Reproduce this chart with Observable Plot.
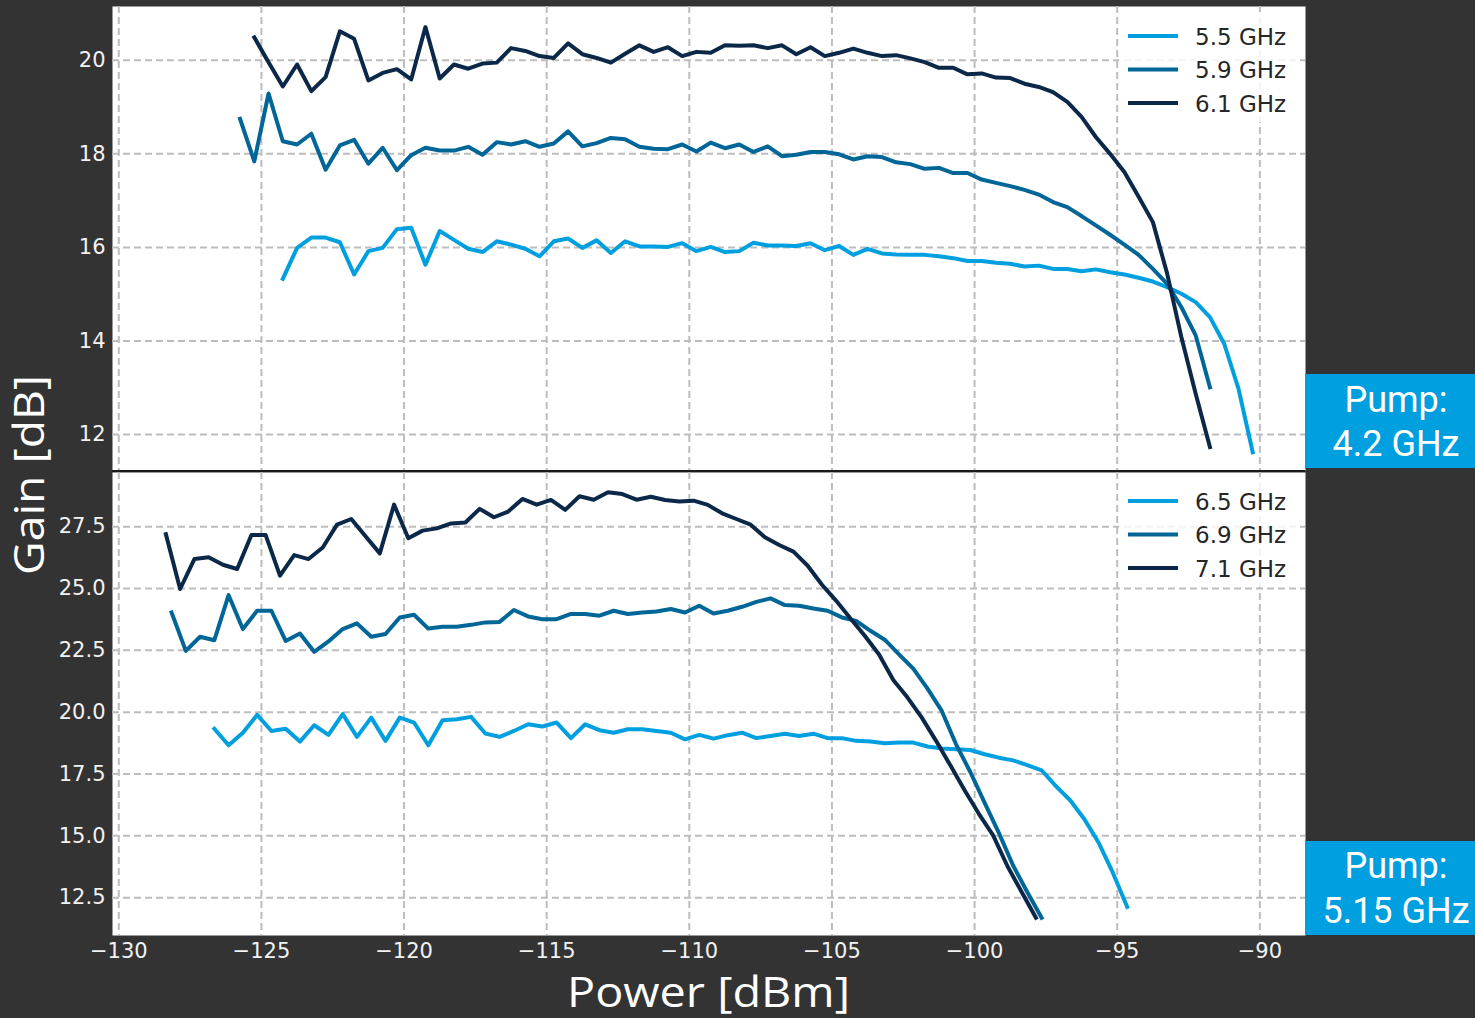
<!DOCTYPE html>
<html>
<head>
<meta charset="utf-8">
<script src="https://cdn.jsdelivr.net/npm/d3@7"></script>
<script src="https://cdn.jsdelivr.net/npm/@observablehq/plot@0.6"></script>
<style>
  html, body { margin: 0; padding: 0; background: #333333; }
  #chart { position: relative; width: 1475px; height: 1018px; background: #333333; overflow: hidden; }
  #chart > svg { position: absolute; left: 0; margin: 0; }
</style>
</head>
<body>
<div id="chart"></div>
<script>
// ---------------- data ----------------
const xTicks = [-130, -125, -120, -115, -110, -105, -100, -95, -90];
const topYTicks = [12, 14, 16, 18, 20];
const bottomYTicks = [12.5, 15, 17.5, 20, 22.5, 25, 27.5];
const topNames = ["5.5 GHz", "5.9 GHz", "6.1 GHz"];
const bottomNames = ["6.5 GHz", "6.9 GHz", "7.1 GHz"];
const seriesColors = ["#009fdf", "#006597", "#0b2848"];
const pumpLabels = ["4.2 GHz", "5.15 GHz"];
const xLabel = "Power [dBm]";
const yLabel = "Gain [dB]";

// power sweeps (dBm)
const topSweep = [-125.75, -125.25, -124.75, -124.25, -123.75, -123.25, -122.75, -122.25, -121.75, -121.25,
  -120.75, -120.25, -119.75, -119.25, -118.75, -118.25, -117.75, -117.25, -116.75, -116.25,
  -115.75, -115.25, -114.75, -114.25, -113.75, -113.25, -112.75, -112.25, -111.75, -111.25,
  -110.75, -110.25, -109.75, -109.25, -108.75, -108.25, -107.75, -107.25, -106.75, -106.25,
  -105.75, -105.25, -104.75, -104.25, -103.75, -103.25, -102.75, -102.25, -101.75, -101.25,
  -100.75, -100.25, -99.75, -99.25, -98.75, -98.25, -97.75, -97.25, -96.75, -96.25,
  -95.75, -95.25, -94.75, -94.25, -93.75, -93.25, -92.75, -92.25, -91.75, -91.25, -90.75, -90.25];
const bottomSweepA = [-128.35, -127.85, -127.35, -126.85, -126.35, -125.85, -125.35, -124.85, -124.35, -123.85,
  -123.35, -122.85, -122.35, -121.85, -121.35, -120.85, -120.35, -119.85, -119.35, -118.85,
  -118.35, -117.85, -117.35, -116.85, -116.35, -115.85, -115.35, -114.85, -114.35, -113.85,
  -113.35, -112.85, -112.35, -111.85, -111.35, -110.85, -110.35, -109.85, -109.35, -108.85,
  -108.35, -107.85, -107.35, -106.85, -106.35, -105.85, -105.35, -104.85, -104.35, -103.85,
  -103.35, -102.85, -102.35, -101.85, -101.35, -100.85, -100.35, -99.85, -99.35, -98.85, -98.35, -97.85];
const bottomSweepB = [-128.15, -127.65, -127.15, -126.65, -126.15, -125.65, -125.15, -124.65, -124.15, -123.65,
  -123.15, -122.65, -122.15, -121.65, -121.15, -120.65, -120.15, -119.65, -119.15, -118.65,
  -118.15, -117.65, -117.15, -116.65, -116.15, -115.65, -115.15, -114.65, -114.15, -113.65,
  -113.15, -112.65, -112.15, -111.65, -111.15, -110.65, -110.15, -109.65, -109.15, -108.65,
  -108.15, -107.65, -107.15, -106.65, -106.15, -105.65, -105.15, -104.65, -104.15, -103.65,
  -103.15, -102.65, -102.15, -101.65, -101.15, -100.65, -100.15, -99.65, -99.15, -98.65,
  -98.15, -97.65, -97.15, -96.65, -96.15, -95.65, -95.15, -94.65];

// gain (dB) — pump 4.2 GHz
const gain55 = [15.33, 15.99, 16.21, 16.21, 16.11, 15.42, 15.92, 15.99, 16.39, 16.42,
  15.63, 16.35, 16.16, 15.97, 15.90, 16.13, 16.06, 15.97, 15.81, 16.13,
  16.19, 15.99, 16.15, 15.88, 16.13, 16.02, 16.02, 16.01, 16.09, 15.92,
  16.01, 15.90, 15.92, 16.10, 16.04, 16.04, 16.03, 16.09, 15.94, 16.03,
  15.84, 15.97, 15.87, 15.85, 15.84, 15.84, 15.81, 15.77, 15.71, 15.71,
  15.67, 15.65, 15.59, 15.61, 15.54, 15.54, 15.49, 15.53, 15.47, 15.42,
  15.35, 15.27, 15.15, 15.01, 14.83, 14.51, 13.94, 12.98, 11.62];
const gain59 = [18.75, 17.84, 19.29, 18.27, 18.20, 18.43, 17.66, 18.18, 18.30, 17.79,
  18.13, 17.65, 17.97, 18.13, 18.07, 18.07, 18.15, 17.98, 18.25, 18.20,
  18.27, 18.15, 18.22, 18.48, 18.16, 18.23, 18.34, 18.31, 18.15, 18.11,
  18.10, 18.20, 18.05, 18.24, 18.12, 18.20, 18.04, 18.16, 17.95, 17.98,
  18.04, 18.04, 17.99, 17.88, 17.95, 17.93, 17.82, 17.78, 17.68, 17.70,
  17.59, 17.59, 17.45, 17.38, 17.31, 17.23, 17.13, 16.97, 16.86, 16.67,
  16.47, 16.27, 16.06, 15.84, 15.54, 15.22, 14.72, 14.12, 13.01];
const gain61 = [20.49, 19.96, 19.44, 19.91, 19.34, 19.64, 20.62, 20.46, 19.57, 19.73,
  19.81, 19.59, 20.71, 19.61, 19.91, 19.82, 19.93, 19.95, 20.26, 20.20,
  20.09, 20.05, 20.36, 20.13, 20.05, 19.95, 20.14, 20.32, 20.18, 20.28,
  20.09, 20.18, 20.16, 20.32, 20.31, 20.32, 20.26, 20.32, 20.13, 20.28,
  20.09, 20.16, 20.25, 20.16, 20.09, 20.11, 20.04, 19.96, 19.84, 19.84,
  19.70, 19.72, 19.63, 19.62, 19.50, 19.43, 19.32, 19.11, 18.79, 18.36,
  18.00, 17.61, 17.08, 16.54, 15.44, 14.08, 12.87, 11.73];

// gain (dB) — pump 5.15 GHz
const gain65 = [19.33, 18.66, 19.17, 19.89, 19.24, 19.33, 18.81, 19.47, 19.08, 19.92,
  19.00, 19.78, 18.84, 19.78, 19.58, 18.66, 19.67, 19.71, 19.81, 19.14,
  19.00, 19.24, 19.51, 19.42, 19.58, 18.95, 19.51, 19.27, 19.17, 19.31,
  19.31, 19.24, 19.17, 18.90, 19.08, 18.93, 19.07, 19.17, 18.95, 19.04,
  19.13, 19.04, 19.13, 18.95, 18.95, 18.84, 18.81, 18.74, 18.77, 18.77,
  18.61, 18.53, 18.50, 18.47, 18.30, 18.16, 18.05, 17.86, 17.65, 17.01,
  16.44, 15.67, 14.72, 13.50, 12.13];
const gain69 = [24.03, 22.48, 23.05, 22.91, 24.73, 23.36, 24.10, 24.10, 22.88, 23.18,
  22.44, 22.86, 23.36, 23.59, 23.05, 23.16, 23.83, 23.94, 23.38, 23.45,
  23.45, 23.53, 23.63, 23.65, 24.13, 23.87, 23.76, 23.76, 23.97, 23.97,
  23.90, 24.10, 23.97, 24.03, 24.07, 24.17, 24.03, 24.30, 23.99, 24.10,
  24.26, 24.46, 24.60, 24.33, 24.30, 24.19, 24.10, 23.83, 23.69, 23.29,
  22.93, 22.34, 21.76, 20.95, 20.05, 18.70, 17.58, 16.34, 15.12, 13.80, 12.72, 11.69];
const gain71 = [27.20, 24.98, 26.19, 26.26, 25.96, 25.79, 27.16, 27.16, 25.52, 26.35,
  26.19, 26.66, 27.58, 27.81, 27.11, 26.42, 28.39, 27.03, 27.34, 27.43,
  27.63, 27.67, 28.22, 27.88, 28.11, 28.62, 28.39, 28.58, 28.18, 28.73,
  28.59, 28.89, 28.82, 28.59, 28.71, 28.58, 28.52, 28.55, 28.38, 28.04,
  27.81, 27.58, 27.07, 26.76, 26.49, 25.92, 25.15, 24.50, 23.79, 23.09,
  22.33, 21.30, 20.59, 19.78, 18.84, 17.85, 16.84, 15.89, 15.02, 13.78, 12.73, 11.69];

// series: [name, sweep, start index, values]
const topSeries = [
  [topNames[0], topSweep, 3, gain55],
  [topNames[1], topSweep, 0, gain59],
  [topNames[2], topSweep, 1, gain61]
];
const bottomSeries = [
  [bottomNames[0], bottomSweepB, 3, gain65],
  [bottomNames[1], bottomSweepB, 0, gain69],
  [bottomNames[2], bottomSweepA, 0, gain71]
];

function rows(series) {
  const out = [];
  for (const [name, sweep, start, vals] of series) {
    vals.forEach((v, i) => out.push({series: name, power: sweep[start + i], gain: v}));
  }
  return out;
}

// ---------------- drawing ----------------
const chart = document.getElementById("chart");
const minus = d => (d < 0 ? "\u2212" : "") + Math.abs(d);
const xDomain = [-130.22, -88.40];
const gridStyle = {stroke: "#bdbdbd", strokeOpacity: 1, strokeWidth: 2, strokeDasharray: "7,4"};

function makePanel({data, names, yDomain, yTicks, yFormat, showX, height, marginTop, marginBottom}) {
  return Plot.plot({
    width: 1305,
    height,
    marginLeft: 112,
    marginRight: 0,
    marginTop,
    marginBottom,
    style: {background: "transparent", color: "#f2f2f2", fontFamily: "DejaVu Sans", fontSize: "21px", overflow: "visible"},
    x: {domain: xDomain, ticks: xTicks, tickFormat: minus, tickSize: 0, tickPadding: 8, label: null, axis: showX ? "bottom" : null},
    y: {domain: yDomain, ticks: yTicks, tickFormat: yFormat, tickSize: 0, tickPadding: 7, label: null, axis: "left"},
    color: {domain: names, range: seriesColors},
    marks: [
      Plot.frame({fill: "white", stroke: "none"}),
      Plot.ruleX(xTicks, gridStyle),
      Plot.ruleY(yTicks, gridStyle),
      Plot.line(data, {x: "power", y: "gain", z: "series", stroke: "series",
        strokeWidth: 4, strokeLinecap: "square", strokeLinejoin: "round"})
    ]
  });
}

const topPlot = makePanel({
  data: rows(topSeries), names: topNames,
  yDomain: [11.23, 21.15], yTicks: topYTicks, yFormat: d => String(d),
  showX: false, height: 471, marginTop: 6, marginBottom: 1
});
topPlot.style.top = "0px";
chart.appendChild(topPlot);

const bottomPlot = makePanel({
  data: rows(bottomSeries), names: bottomNames,
  yDomain: [10.97, 29.69], yTicks: bottomYTicks, yFormat: d => d.toFixed(1),
  showX: true, height: 547, marginTop: 1, marginBottom: 83
});
bottomPlot.style.top = "471px";
chart.appendChild(bottomPlot);

// overlay: separator, legends, pump labels, axis titles
const svg = d3.select(chart).append("svg")
  .attr("width", 1475).attr("height", 1018)
  .style("position", "absolute").style("top", "0px").style("left", "0px");

svg.append("line").attr("x1", 112).attr("x2", 1305).attr("y1", 471).attr("y2", 471)
  .attr("stroke", "#1a1a1a").attr("stroke-width", 2);

function legend(names, rowY) {
  const g = svg.append("g");
  g.append("rect").attr("x", 1119).attr("y", rowY[0] - 24).attr("width", 178).attr("height", 110)
    .attr("fill", "white").attr("fill-opacity", 0.82);
  names.forEach((n, i) => {
    g.append("line").attr("x1", 1128).attr("x2", 1178).attr("y1", rowY[i]).attr("y2", rowY[i])
      .attr("stroke", seriesColors[i]).attr("stroke-width", 4);
    g.append("text").attr("x", 1195).attr("y", rowY[i] + 8.5).text(n)
      .attr("font-family", "DejaVu Sans").attr("font-size", 23).attr("fill", "#262626");
  });
}
legend(topNames, [36, 69.5, 103]);
legend(bottomNames, [501, 534.5, 568]);

function pump(label, y0, b1, b2) {
  svg.append("rect").attr("x", 1305).attr("y", y0).attr("width", 170).attr("height", 94).attr("fill", "#009fdf");
  svg.append("text").attr("x", 1396).attr("y", b1).attr("text-anchor", "middle")
    .attr("font-family", "Roboto").attr("font-size", 36).attr("fill", "white").text("Pump:");
  svg.append("text").attr("x", 1396).attr("y", b2).attr("text-anchor", "middle")
    .attr("font-family", "Roboto").attr("font-size", 36).attr("fill", "white").text(label);
}
pump(pumpLabels[0], 374, 411.5, 455.5);
pump(pumpLabels[1], 841, 878, 922.5);

svg.append("text").attr("x", 567).attr("y", 1007)
  .attr("font-family", "Open Sans").attr("font-size", 42).attr("fill", "white")
  .attr("textLength", 283).attr("lengthAdjust", "spacingAndGlyphs").text(xLabel);
svg.append("text").attr("transform", "translate(44,575) rotate(-90)")
  .attr("font-family", "Open Sans").attr("font-size", 42).attr("fill", "white")
  .attr("textLength", 200).attr("lengthAdjust", "spacingAndGlyphs").text(yLabel);
</script>
</body>
</html>
